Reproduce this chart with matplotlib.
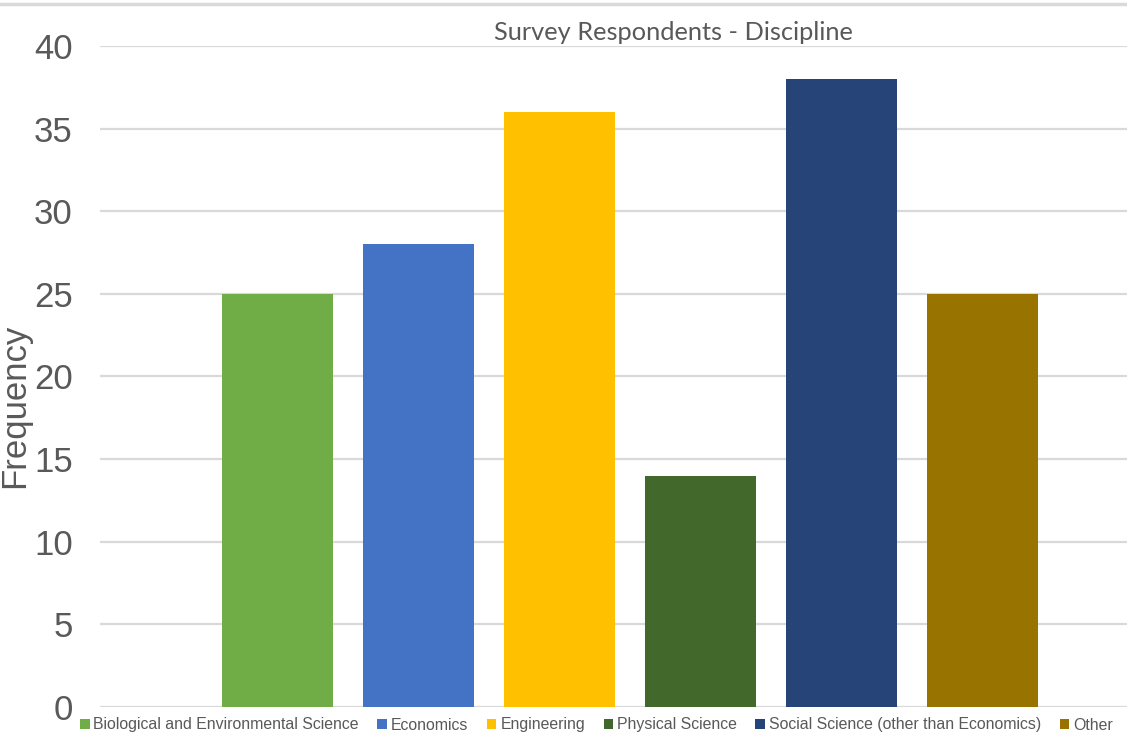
import matplotlib.pyplot as plt
from matplotlib.lines import Line2D

# Survey respondents by discipline
disciplines = ['Biological and Environmental Science', 'Economics', 'Engineering',
               'Physical Science', 'Social Science (other than Economics)', 'Other']
counts = [25, 28, 36, 14, 38, 25]
colors = ['#70ad47', '#4472c4', '#ffc000', '#43682b', '#264478', '#997300']
yticks = [0, 5, 10, 15, 20, 25, 30, 35, 40]

sans = ['Liberation Sans', 'DejaVu Sans']
text_grey = '#595959'
grid_grey = '#d9d9d9'

W, H = 1127, 742
fig = plt.figure(figsize=(W / 100, H / 100), dpi=100)
ax = fig.add_axes([100 / W, 35 / H, 1 - 100 / W, 661 / H])

# one bar per discipline, pitched 141 px apart with 111 px bars
for i, (name, val, col) in enumerate(zip(disciplines, counts, colors)):
    ax.bar(i, val, width=111 / 141, color=col, label=name, zorder=3)

ax.set_xlim(-(277.5 - 100) / 141, (W - 277.5) / 141)
ax.set_ylim(0, 40)
ax.set_yticks(yticks)
ax.set_xticks([])
ax.yaxis.grid(True, color=grid_grey, linewidth=1.6, zorder=0)
ax.tick_params(axis='y', length=0, pad=19.5, labelsize=25, labelcolor=text_grey)
for lbl in ax.get_yticklabels():
    lbl.set_family(sans)
for s in ax.spines.values():
    s.set_visible(False)

fig.text(15 / W, 1 - 406 / H, 'Frequency', rotation=90, ha='center', va='center',
         fontsize=25, color=text_grey, family=sans)

fig.text(673 / W, 1 - 33 / H, 'Survey Respondents - Discipline', ha='center', va='center',
         fontsize=18.3, color=text_grey, family=['Lato', 'DejaVu Sans'])

# thin rule along the top edge
fig.add_artist(Line2D([0, 1], [1 - 4 / H, 1 - 4 / H], color=grid_grey, linewidth=2.5,
                      transform=fig.transFigure))

leg = fig.legend(loc='center left', bbox_to_anchor=(80 / W, 1 - 725 / H), ncol=6,
                 frameon=False, borderpad=0, borderaxespad=0,
                 handlelength=0.6, handleheight=0.6, handletextpad=0.25,
                 columnspacing=1.17, prop={'family': sans, 'size': 11.4})
for t in leg.get_texts():
    t.set_color(text_grey)

fig.savefig('out.png', dpi=100)
